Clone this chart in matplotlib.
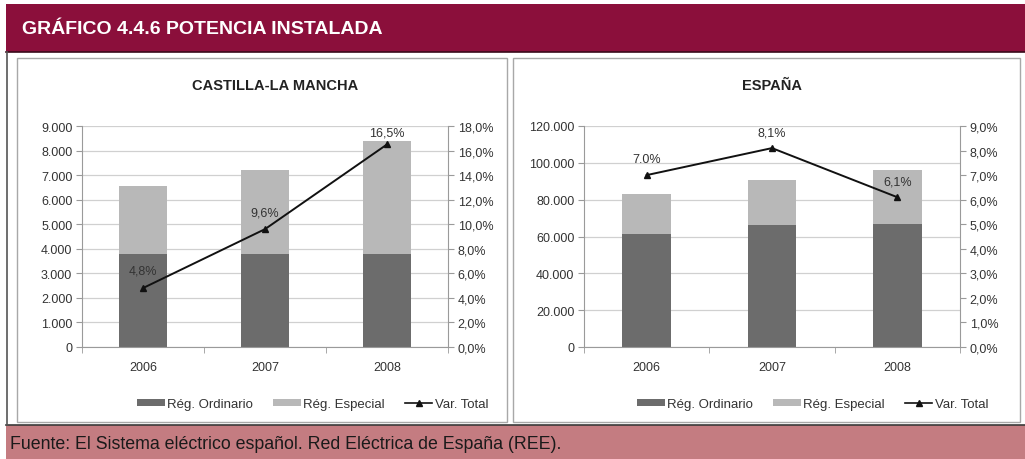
import matplotlib
matplotlib.use("Agg")
import matplotlib.pyplot as plt
from matplotlib.patches import Rectangle
from matplotlib.lines import Line2D
from matplotlib.ticker import FixedLocator, FuncFormatter

plt.rcParams['font.family'] = ['Liberation Sans Narrow', 'Liberation Sans', 'DejaVu Sans']

years = ["2006", "2007", "2008"]

# Castilla-La Mancha (MW)
clm_ordinario = [3780, 3770, 3770]
clm_especial = [2790, 3450, 4630]
clm_var = [4.8, 9.6, 16.5]
clm_var_labels = ["4,8%", "9,6%", "16,5%"]

# España (MW)
esp_ordinario = [61500, 66000, 66700]
esp_especial = [21500, 24900, 29600]
esp_var = [7.0, 8.1, 6.1]
esp_var_labels = ["7.0%", "8,1%", "6,1%"]

legend_labels = ["Rég. Ordinario", "Rég. Especial", "Var. Total"]

W, H = 1025, 460
fig = plt.figure(figsize=(W / 100, H / 100), dpi=100)
fig.patch.set_facecolor("white")

DARK = "#6c6c6c"
LIGHT = "#b8b8b8"
GRID = "#d0d0d0"
AXC = "#9a9a9a"
TXT = "#333333"


def fx(x):
    return x / W


def fy(y):
    return 1 - y / H


def rect_px(x0, y0, x1, y1, **kw):
    fig.add_artist(Rectangle((fx(x0), fy(y1)), fx(x1) - fx(x0), fy(y0) - fy(y1),
                             transform=fig.transFigure, zorder=-5, **kw))


def hline_px(x0, x1, y, **kw):
    fig.add_artist(Line2D([fx(x0), fx(x1)], [fy(y), fy(y)], transform=fig.transFigure,
                          zorder=-4, **kw))


# header band, footer band and the two white panels
rect_px(6, 5, 1025, 53, facecolor="#8b0f3b", edgecolor="none")
hline_px(6, 1025, 53, color="#3a0a1a", lw=1.2)
rect_px(6, 426, 1025, 460, facecolor="#c47c81", edgecolor="none")
hline_px(6, 1025, 426, color="#3a3a3a", lw=1.2)
fig.add_artist(Line2D([fx(7), fx(7)], [fy(53), fy(426)], color="#555555", lw=1.2,
                      transform=fig.transFigure, zorder=-4))
rect_px(17, 59, 507, 423, facecolor="white", edgecolor="#a8a8a8", lw=1.0)
rect_px(513, 59, 1020, 423, facecolor="white", edgecolor="#a8a8a8", lw=1.0)

fig.text(fx(22), fy(30), "GRÁFICO 4.4.6 POTENCIA INSTALADA", color="white",
         fontsize=14, fontweight="bold", va="center", ha="left")
fig.text(fx(10), fy(445), "Fuente: El Sistema eléctrico español. Red Eléctrica de España (REE).",
         color="#1a1a1a", fontsize=12.8, va="center", ha="left")


def thousands(v, _):
    return f"{int(round(v)):,}".replace(",", ".")


def pct_comma(v, _):
    return f"{v:.1f}%".replace(".", ",")


def panel(x0, x1, title, title_x, ordinario, especial, var, var_labels,
          ymax, ystep, pmax, pstep, label_offsets, legend_x):
    ax = fig.add_axes([fx(x0), fy(348), fx(x1) - fx(x0), fy(127) - fy(348)])
    ax.patch.set_alpha(0)
    xs = list(range(len(years)))
    ax.bar(xs, ordinario, width=0.39, color=DARK, zorder=2)
    ax.bar(xs, especial, width=0.39, bottom=ordinario, color=LIGHT, zorder=2)
    ax.set_xlim(-0.5, len(years) - 0.5)
    ax.set_ylim(0, ymax)
    ax.yaxis.set_major_locator(FixedLocator([i * ystep for i in range(int(ymax / ystep) + 1)]))
    ax.yaxis.set_major_formatter(FuncFormatter(thousands))
    ax.grid(axis="y", color=GRID, lw=0.9, zorder=0)
    ax.set_axisbelow(True)
    ax.set_xticks(xs)
    ax.set_xticklabels(years)
    ax.set_xticks([-0.5, 0.5, 1.5, 2.5], minor=True)
    ax.tick_params(axis="x", which="major", length=0, pad=10, labelsize=9, colors=TXT)
    ax.tick_params(axis="x", which="minor", length=4, color=AXC)
    ax.tick_params(axis="y", length=4, color=AXC, labelsize=9, labelcolor=TXT, pad=3)
    for s in ("top", "right"):
        ax.spines[s].set_visible(False)
    for s in ("left", "bottom"):
        ax.spines[s].set_color(AXC)

    ax2 = ax.twinx()
    ax2.plot(xs, var, color="#111111", lw=1.4, marker="^", markersize=4, zorder=4)
    ax2.set_ylim(0, pmax)
    ax2.yaxis.set_major_locator(FixedLocator([i * pstep for i in range(int(round(pmax / pstep)) + 1)]))
    ax2.yaxis.set_major_formatter(FuncFormatter(pct_comma))
    ax2.tick_params(axis="y", length=4, color=AXC, labelsize=9, labelcolor=TXT, pad=3)
    for s in ("top", "left", "bottom"):
        ax2.spines[s].set_visible(False)
    ax2.spines["right"].set_color(AXC)
    for xi, v, lab, off in zip(xs, var, var_labels, label_offsets):
        ax2.annotate(lab, (xi, v), xytext=(0, off), textcoords="offset points",
                     ha="center", va="bottom", fontsize=9, color=TXT, zorder=5)

    fig.text(fx(title_x), fy(86), title, ha="center", va="center",
             fontsize=10.5, fontweight="bold", color="#222222")

    handles = [Rectangle((0, 0), 1, 1, facecolor=DARK, edgecolor="none"),
               Rectangle((0, 0), 1, 1, facecolor=LIGHT, edgecolor="none"),
               Line2D([], [], color="#111111", lw=1.2, marker="^", markersize=4)]
    fig.legend(handles, legend_labels, loc="center left",
               bbox_to_anchor=(fx(legend_x), fy(405)), ncol=3, frameon=False,
               fontsize=9.5, handlelength=2.1, handleheight=0.5, handletextpad=0.2,
               columnspacing=1.5, labelcolor=TXT, borderaxespad=0, borderpad=0)


panel(82, 448, "CASTILLA-LA MANCHA", 275, clm_ordinario, clm_especial, clm_var,
      clm_var_labels, 9000, 1000, 18, 2, [8, 8, 4], 137)
panel(584, 960, "ESPAÑA", 772, esp_ordinario, esp_especial, esp_var,
      esp_var_labels, 120000, 20000, 9, 1, [7, 7, 7], 637)

fig.savefig("out.png", dpi=100, facecolor=fig.get_facecolor())
